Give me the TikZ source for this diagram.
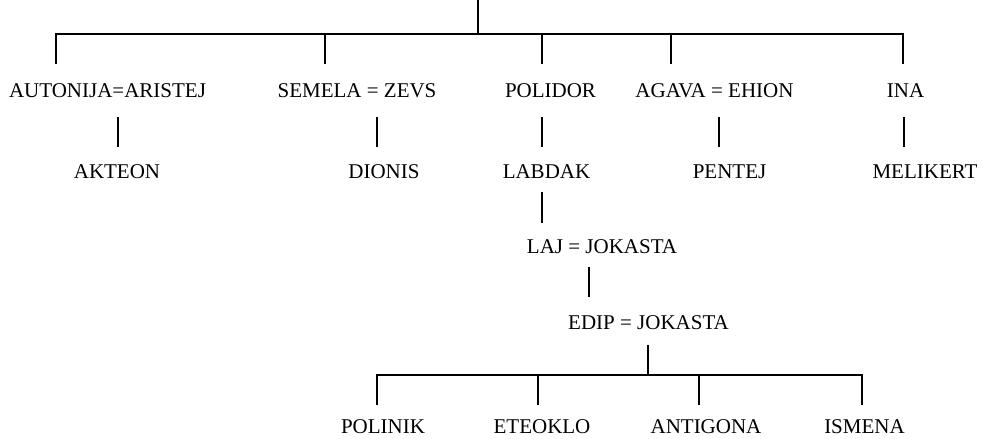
\documentclass[tikz,border=0pt]{standalone}
\usepackage{fontspec}
\setmainfont{Liberation Serif}
\begin{document}
\begin{tikzpicture}[x=1pt,y=-1pt,
  person/.style={inner sep=0pt, anchor=base, font=\fontsize{21}{25}\selectfont},
  link/.style={line width=1.6pt, line cap=butt}]
\useasboundingbox (0,0) rectangle (983,439);
% row 1
\node[person] (autonija) at (107.5,97) {AUTONIJA=ARISTEJ};
\node[person] (semela) at (357,97) {SEMELA = ZEVS};
\node[person] (polidor) at (550.5,97) {POLIDOR};
\node[person] (agava) at (714.5,97) {AGAVA = EHION};
\node[person] (ina) at (905.5,97) {INA};
% row 2
\node[person] (akteon) at (117,178) {AKTEON};
\node[person] (dionis) at (384,178) {DIONIS};
\node[person] (labdak) at (546.5,178) {LABDAK};
\node[person] (pentej) at (729.5,178) {PENTEJ};
\node[person] (melikert) at (925,178) {MELIKERT};
% lower
\node[person] (laj) at (602,253) {LAJ = JOKASTA};
\node[person] (edip) at (648.5,329) {EDIP = JOKASTA};
\node[person] (polinik) at (383,433) {POLINIK};
\node[person] (eteoklo) at (542,433) {ETEOKLO};
\node[person] (antigona) at (706,433) {ANTIGONA};
\node[person] (ismena) at (864.5,433) {ISMENA};
% junction coordinates
\coordinate (root) at (478,0);
\coordinate (bar) at (478,34);
\coordinate (d1) at (56,64);
\coordinate (d2) at (325,64);
\coordinate (d3) at (542,64);
\coordinate (d4) at (671,64);
\coordinate (d5) at (903,64);
\draw[link] (root) -- (bar);
\draw[link] (d1) |- (d5 |- bar) -- (d5);
\foreach \d in {d2,d3,d4} \draw[link] (\d |- bar) -- (\d);
% short links row1 -> row2
\coordinate (s1) at (118,117); \coordinate (t1) at (118,147);
\coordinate (s2) at (377,117); \coordinate (t2) at (377,147);
\coordinate (s3) at (542,117); \coordinate (t3) at (542,147);
\coordinate (s4) at (719,117); \coordinate (t4) at (719,147);
\coordinate (s5) at (904,117); \coordinate (t5) at (904,147);
\foreach \i in {1,...,5} \draw[link] (s\i) -- (t\i);
% LABDAK -> LAJ -> EDIP
\coordinate (s6) at (542,192); \coordinate (t6) at (542,223);
\coordinate (s7) at (589,267); \coordinate (t7) at (589,297);
\draw[link] (s6) -- (t6);
\draw[link] (s7) -- (t7);
% EDIP children
\coordinate (e1) at (648,345);
\coordinate (ebar) at (648,375);
\coordinate (c1) at (377,405);
\coordinate (c2) at (538,405);
\coordinate (c3) at (699,405);
\coordinate (c4) at (862,405);
\draw[link] (e1) -- (ebar);
\draw[link] (c1) |- (c4 |- ebar) -- (c4);
\foreach \c in {c2,c3} \draw[link] (\c |- ebar) -- (\c);
\end{tikzpicture}
\end{document}
